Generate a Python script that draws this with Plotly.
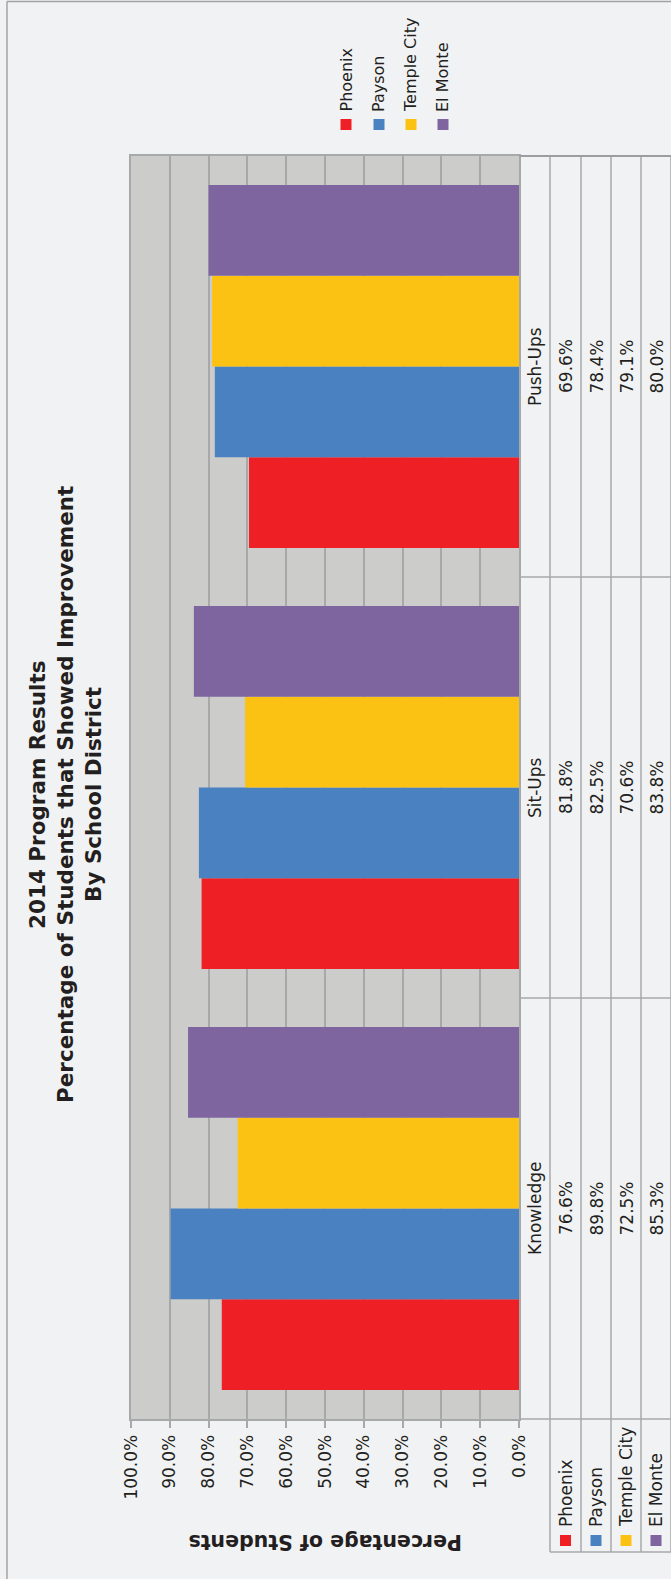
import plotly.graph_objects as go

# ---------------- data ----------------
categories = ["Knowledge", "Sit-Ups", "Push-Ups"]
series_names = ["Phoenix", "Payson", "Temple City", "El Monte"]
phoenix = [76.6, 81.8, 69.6]
payson = [89.8, 82.5, 78.4]
temple_city = [72.5, 70.6, 79.1]
el_monte = [85.3, 83.8, 80.0]
series_values = [phoenix, payson, temple_city, el_monte]
series_colors = ["#EE1F25", "#4A81C0", "#FCC213", "#7F65A0"]
tick_values = [0, 10, 20, 30, 40, 50, 60, 70, 80, 90, 100]
tick_labels = [f"{v:.1f}%" for v in tick_values]
title_lines = ["2014 Program Results",
               "Percentage of Students that Showed Improvement",
               "By School District"]
axis_title = "Percentage of Students"

# ---------------- geometry (pixels) ----------------
W, H = 671, 1579
PL, PR, PT, PB = 131, 519, 156, 1419
FONT = "DejaVu Sans"
TXT = "#231F20"
GRID = "#A7A8AA"
BG = "#F1F2F4"


def fx(px):
    return (px - PL) / (PR - PL)


def fy(py):
    return (PB - py) / (PB - PT)


fig = go.Figure()
for name, vals, col in zip(series_names, series_values, series_colors):
    fig.add_trace(go.Bar(
        y=categories, x=vals, name=name, orientation="h",
        marker=dict(color=col, line=dict(width=0)),
        showlegend=False, hoverinfo="x+name",
    ))

fig.update_layout(
    width=W, height=H,
    margin=dict(l=PL, r=W - PR, t=PT, b=H - PB, pad=0),
    paper_bgcolor=BG, plot_bgcolor="#CCCCCA",
    barmode="group", bargap=0.138, bargroupgap=0,
    font=dict(family=FONT, color=TXT, size=17),
)
fig.update_xaxes(
    range=[100, 0], tickvals=tick_values, ticktext=tick_labels,
    tickangle=-90, ticks="outside", ticklen=7, tickwidth=1.5, tickcolor=GRID,
    showgrid=True, gridcolor=GRID, gridwidth=1.5,
    showline=True, linecolor=GRID, linewidth=2, mirror=True,
    zeroline=False, tickfont=dict(family=FONT, size=17, color=TXT),
    fixedrange=True,
)
fig.update_yaxes(
    categoryorder="array", categoryarray=categories, range=[-0.5, 2.5],
    showticklabels=False, showgrid=False, zeroline=False,
    showline=True, linecolor=GRID, linewidth=2, mirror=True, ticks="",
    fixedrange=True,
)

shapes = []
LC = dict(color=GRID, width=1.5)
# outer frame
shapes.append(dict(type="line", xref="paper", yref="paper",
                   x0=fx(7), x1=fx(7), y0=fy(1.5), y1=fy(H + 5), line=dict(color="#A3A3A3", width=1.5)))
shapes.append(dict(type="line", xref="paper", yref="paper",
                   x0=fx(7), x1=fx(W + 5), y0=fy(1.5), y1=fy(1.5), line=dict(color="#A3A3A3", width=1.5)))
# data table
col_edges = [PR, 550, 581, 611, 641, 671]
for i, xe in enumerate(col_edges[1:]):
    shapes.append(dict(type="line", xref="paper", yref="paper",
                       x0=fx(xe), x1=fx(xe), y0=fy(PT), y1=fy(1552), line=LC))
shapes.append(dict(type="line", xref="paper", yref="paper",
                   x0=fx(PR), x1=fx(W + 5), y0=fy(PT), y1=fy(PT), line=dict(color="#9C9D9F", width=2)))
shapes.append(dict(type="line", xref="paper", yref="paper",
                   x0=fx(PR), x1=fx(W + 5), y0=fy(PB), y1=fy(PB), line=LC))
shapes.append(dict(type="line", xref="paper", yref="paper",
                   x0=fx(550), x1=fx(W + 5), y0=fy(1552), y1=fy(1552), line=LC))
for b in [0.5, 1.5]:
    shapes.append(dict(type="line", xref="paper", yref="y",
                       x0=fx(PR), x1=fx(W + 5), y0=b, y1=b, line=LC))

annotations = []
# table: category labels + values
for ci, cat in enumerate(categories):
    annotations.append(dict(xref="paper", yref="y", x=fx((PR + 550) / 2), y=cat,
                            text=cat, textangle=-90, showarrow=False,
                            xanchor="center", yanchor="middle",
                            font=dict(family=FONT, size=17, color=TXT)))
    for si, vals in enumerate(series_values):
        cx = (col_edges[si + 1] + col_edges[si + 2]) / 2
        annotations.append(dict(xref="paper", yref="y", x=fx(cx), y=cat,
                                text=f"{vals[ci]:.1f}%", textangle=-90, showarrow=False,
                                xanchor="center", yanchor="middle",
                                font=dict(family=FONT, size=17, color=TXT)))
# table legend keys + top legend
legend_x = [346, 379, 411, 443]
for si, (name, col) in enumerate(zip(series_names, series_colors)):
    cx = (col_edges[si + 1] + col_edges[si + 2]) / 2
    annotations.append(dict(xref="paper", yref="paper", x=fx(cx), y=fy(1529),
                            text=name, textangle=-90, showarrow=False,
                            xanchor="center", yanchor="bottom",
                            font=dict(family=FONT, size=17, color=TXT)))
    shapes.append(dict(type="rect", xref="paper", yref="paper",
                       x0=fx(cx - 5.5), x1=fx(cx + 5.5), y0=fy(1535), y1=fy(1546),
                       fillcolor=col, line=dict(width=0)))
    lx = legend_x[si]
    annotations.append(dict(xref="paper", yref="paper", x=fx(lx), y=fy(114),
                            text=name, textangle=-90, showarrow=False,
                            xanchor="center", yanchor="bottom",
                            font=dict(family=FONT, size=16, color=TXT)))
    shapes.append(dict(type="rect", xref="paper", yref="paper",
                       x0=fx(lx - 5.5), x1=fx(lx + 5.5), y0=fy(119), y1=fy(130),
                       fillcolor=col, line=dict(width=0)))

# title
for i, line in enumerate(title_lines):
    annotations.append(dict(xref="paper", yref="paper", x=fx(37 + 28 * i), y=fy(795),
                            text=f"<b>{line}</b>", textangle=-90, showarrow=False,
                            xanchor="center", yanchor="middle",
                            font=dict(family=FONT, size=21.5, color=TXT)))
# axis title (upside down)
annotations.append(dict(xref="paper", yref="paper", x=0.5, y=fy(1542),
                        text=f"<b>{axis_title}</b>", textangle=180, showarrow=False,
                        xanchor="center", yanchor="middle",
                        font=dict(family=FONT, size=20.5, color=TXT)))

fig.update_layout(shapes=shapes, annotations=annotations)
fig.write_html("out.html", config={"displayModeBar": False},
               post_script="document.body.style.margin='0';document.body.style.overflow='hidden';")
